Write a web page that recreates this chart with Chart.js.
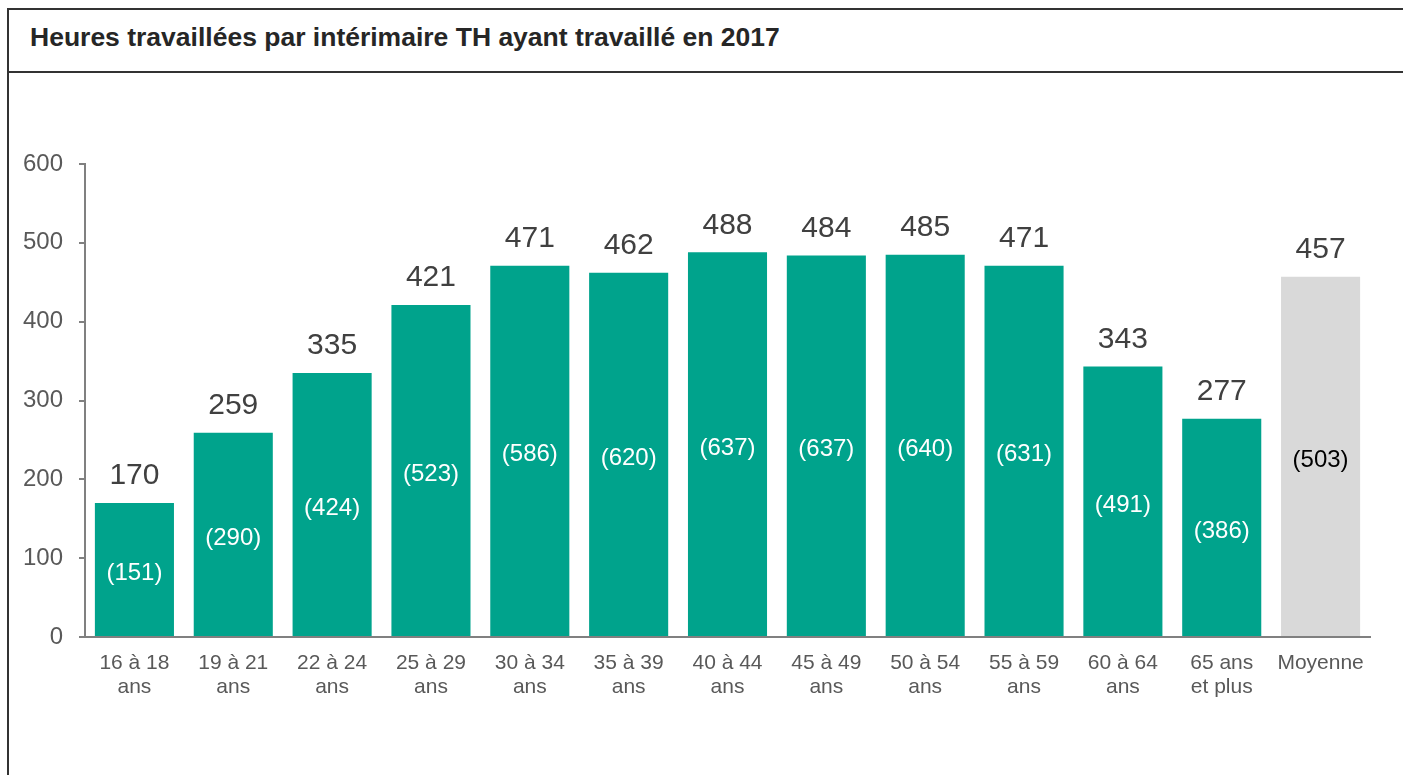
<!DOCTYPE html>
<html>
<head>
<meta charset="utf-8">
<script src="https://cdn.jsdelivr.net/npm/chart.js@4.4.0/dist/chart.umd.min.js"></script>
<style>
  html, body { margin: 0; padding: 0; width: 1403px; height: 775px; overflow: hidden; background: #fff; }
  .box { position: absolute; left: 7px; top: 8px; width: 1500px; height: 900px; border: 2px solid #333; }
  .title { height: 61px; border-bottom: 2px solid #333; font: bold 26.5px "Liberation Sans", Arial, sans-serif; color: #262626; line-height: 55px; padding-left: 21px; white-space: nowrap; }
  #wrap { position: absolute; left: 0; top: 0; width: 1403px; height: 775px; }
</style>
</head>
<body>
<div class="box"><div class="title">Heures travaillées par intérimaire TH ayant travaillé en 2017</div></div>
<div id="wrap"><canvas id="chart"></canvas></div>
<script>
'use strict'

// catégories d'âge
const categories = [
    ['16 à 18', 'ans'], ['19 à 21', 'ans'], ['22 à 24', 'ans'], ['25 à 29', 'ans'],
    ['30 à 34', 'ans'], ['35 à 39', 'ans'], ['40 à 44', 'ans'], ['45 à 49', 'ans'],
    ['50 à 54', 'ans'], ['55 à 59', 'ans'], ['60 à 64', 'ans'], ['65 ans', 'et plus'], 'Moyenne'
]
// heures travaillées 2017
const heures = [170, 259, 335, 421, 471, 462, 488, 484, 485, 471, 343, 277, 457]
// valeurs entre parenthèses
const heuresParen = [151, 290, 424, 523, 586, 620, 637, 637, 640, 631, 491, 386, 503]
const yTicks = [0, 100, 200, 300, 400, 500, 600]

const TEAL = '#00A38C'
const GREY = '#D9D9D9'
const FONT = '"Liberation Sans", Arial, sans-serif'

const labelsPlugin = {
    id: 'barLabels',
    afterDatasetsDraw(chart) {
        const ctx = chart.ctx
        const meta = chart.getDatasetMeta(0)
        ctx.save()
        ctx.textAlign = 'center'
        ctx.textBaseline = 'middle'
        meta.data.forEach((bar, i) => {
            ctx.font = '30px ' + FONT
            ctx.fillStyle = '#404040'
            ctx.fillText(String(heures[i]), bar.x, bar.y - 27)
            ctx.font = '24px ' + FONT
            ctx.fillStyle = i === heures.length - 1 ? '#000' : '#fff'
            ctx.fillText('(' + heuresParen[i] + ')', bar.x, (bar.y + bar.base) / 2 + 4)
        })
        ctx.restore()
    }
}

new Chart(document.getElementById('chart'), {
    type: 'bar',
    data: {
        labels: categories,
        datasets: [{
            data: heures,
            backgroundColor: heures.map((v, i) => i === heures.length - 1 ? GREY : TEAL),
            barPercentage: 0.8,
            categoryPercentage: 1
        }]
    },
    options: {
        responsive: true,
        maintainAspectRatio: false,
        animation: false,
        layout: { padding: { left: 0, top: 164, right: 33, bottom: 38 } },
        plugins: { legend: { display: false }, tooltip: { enabled: false } },
        scales: {
            x: {
                grid: { drawOnChartArea: false, drawTicks: false },
                border: { display: true, color: '#808080', width: 2 },
                ticks: { color: '#595959', font: { family: FONT, size: 21, lineHeight: 1.15 }, padding: 14, maxRotation: 0, autoSkip: false },
                afterFit: (scale) => { scale.height = 100 }
            },
            y: {
                min: 0,
                max: 600,
                afterBuildTicks: (scale) => { scale.ticks = yTicks.map(v => ({ value: v })) },
                grid: { drawOnChartArea: false, drawTicks: true, tickLength: 6, tickColor: '#808080', lineWidth: 2 },
                border: { display: true, color: '#808080', width: 2 },
                ticks: { color: '#595959', font: { family: FONT, size: 24 }, padding: 16 },
                afterFit: (scale) => { scale.width = 85 }
            }
        }
    },
    plugins: [labelsPlugin]
})
</script>
</body>
</html>
